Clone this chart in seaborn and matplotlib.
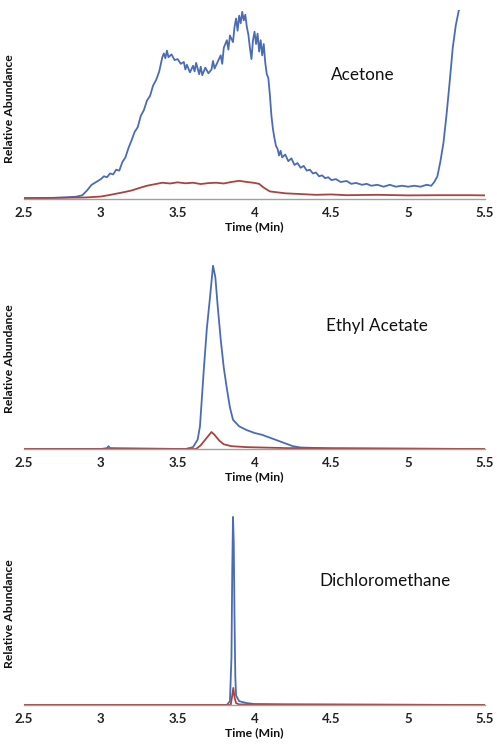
import pandas as pd
import matplotlib
matplotlib.use("Agg")
import matplotlib.pyplot as plt
import seaborn as sns

# Acetone trace (blue = total, red = second ion), relative abundance
acetone_blue_t = [2.50, 2.60, 2.70, 2.78, 2.84, 2.88, 2.91, 2.94, 2.97, 3.00, 3.02, 3.04, 3.06, 3.08,
                  3.10, 3.12, 3.14, 3.16, 3.18, 3.20, 3.22, 3.24, 3.26, 3.28, 3.30, 3.32, 3.34, 3.36,
                  3.38, 3.40, 3.41, 3.42, 3.43, 3.44, 3.46, 3.48, 3.50, 3.52, 3.54, 3.55, 3.56, 3.58,
                  3.60, 3.61, 3.62, 3.64, 3.65, 3.66, 3.68, 3.70, 3.72, 3.73, 3.74, 3.76, 3.78, 3.79,
                  3.80, 3.82, 3.83, 3.84, 3.86, 3.87, 3.88, 3.89, 3.90, 3.91, 3.92, 3.93, 3.94, 3.95,
                  3.96, 3.97, 3.98, 3.99, 4.00, 4.01, 4.02, 4.03, 4.04, 4.05, 4.06, 4.07, 4.08, 4.09,
                  4.10, 4.11, 4.12, 4.13, 4.14, 4.15, 4.16, 4.17, 4.18, 4.20, 4.22, 4.24, 4.26, 4.28,
                  4.30, 4.32, 4.34, 4.36, 4.38, 4.40, 4.42, 4.44, 4.46, 4.48, 4.50, 4.53, 4.56, 4.60,
                  4.63, 4.66, 4.70, 4.73, 4.76, 4.80, 4.84, 4.88, 4.92, 4.96, 5.00, 5.04, 5.08, 5.12,
                  5.15, 5.17, 5.19, 5.21, 5.23, 5.25, 5.27, 5.29, 5.31, 5.32, 5.33]
acetone_blue_y = [0.3, 0.4, 0.6, 0.9, 1.2, 2.0, 4.5, 7.5, 9.0, 10.5, 12.0, 11.5, 13.5, 13.0,
                  15.5, 15.0, 19.5, 22.0, 27.0, 31.0, 35.5, 38.0, 44.0, 47.0, 52.0, 54.5, 60.0, 63.0,
                  67.5, 75.0, 77.0, 74.5, 78.5, 75.0, 76.5, 73.5, 74.0, 71.5, 72.5, 68.5, 71.0, 67.0,
                  70.5, 67.5, 72.0, 66.0, 70.0, 65.5, 69.5, 66.5, 68.5, 73.0, 69.0, 72.5, 76.0, 71.5,
                  80.0, 84.0, 79.0, 86.5, 83.0, 91.0, 95.5, 89.0, 97.0, 93.0, 99.0, 94.5, 97.5, 91.0,
                  87.0, 80.0, 74.0, 84.0, 88.5, 82.0, 87.5, 78.0, 84.0, 76.0, 82.0, 72.0, 66.0, 64.0,
                  55.0, 44.0, 37.0, 32.0, 28.0, 26.5, 23.0, 25.5, 22.0, 23.5, 20.0, 21.5, 18.0, 19.0,
                  16.5, 17.5, 15.0, 15.5, 13.5, 14.0, 12.0, 12.5, 11.0, 11.5, 10.0, 10.5, 9.0, 9.5,
                  8.0, 8.5, 7.5, 8.0, 7.0, 7.5, 6.5, 7.5, 6.5, 7.0, 6.5, 7.0, 6.5, 7.5,
                  7.0, 9.0, 12.0, 20.0, 30.0, 45.0, 62.0, 80.0, 92.0, 96.0, 100.0]
acetone_red_t = [2.50, 2.70, 2.90, 3.00, 3.05, 3.10, 3.15, 3.20, 3.25, 3.30, 3.35, 3.40, 3.45, 3.50,
                 3.55, 3.60, 3.65, 3.70, 3.75, 3.80, 3.85, 3.90, 3.95, 4.00, 4.03, 4.06, 4.10, 4.15,
                 4.20, 4.30, 4.40, 4.50, 4.60, 4.80, 5.00, 5.20, 5.40, 5.50]
acetone_red_y = [0.5, 0.6, 0.8, 1.3, 2.0, 2.8, 3.6, 4.5, 5.8, 7.0, 7.8, 8.6, 8.2, 8.8,
                 8.3, 8.6, 7.9, 8.4, 8.6, 8.2, 9.0, 9.6, 9.0, 8.5, 8.0, 6.0, 4.0, 3.5,
                 3.0, 2.6, 2.2, 2.4, 2.0, 2.2, 1.9, 2.0, 2.0, 1.9]

# Ethyl acetate trace
ethyl_blue_t = [2.50, 3.00, 3.04, 3.05, 3.06, 3.55, 3.60, 3.63, 3.645, 3.67, 3.69, 3.71, 3.73, 3.745,
                3.76, 3.78, 3.80, 3.82, 3.84, 3.86, 3.90, 3.95, 4.00, 4.05, 4.10, 4.15, 4.20, 4.25,
                4.30, 4.50, 5.50]
ethyl_blue_y = [0.0, 0.0, 0.5, 1.5, 0.5, 0.0, 1.0, 5.0, 12.0, 42.0, 64.0, 80.0, 97.0, 91.0,
                76.0, 58.0, 43.0, 32.0, 22.0, 15.5, 12.0, 10.0, 8.5, 7.5, 6.0, 4.5, 3.0, 1.5,
                0.8, 0.3, 0.0]
ethyl_red_t = [2.50, 3.62, 3.65, 3.68, 3.70, 3.72, 3.74, 3.77, 3.80, 3.85, 3.95, 4.20, 5.50]
ethyl_red_y = [0.0, 0.0, 2.0, 5.0, 7.0, 9.0, 7.5, 4.5, 2.5, 1.5, 1.0, 0.5, 0.0]

# Dichloromethane trace
dcm_blue_t = [2.50, 3.82, 3.84, 3.85, 3.855, 3.86, 3.865, 3.87, 3.875, 3.88, 3.90, 3.95, 4.00, 4.20, 5.50]
dcm_blue_y = [0.0, 0.0, 2.0, 25.0, 70.0, 99.0, 85.0, 45.0, 15.0, 5.0, 2.0, 1.0, 0.5, 0.3, 0.0]
dcm_red_t = [2.50, 3.845, 3.855, 3.862, 3.87, 3.88, 3.90, 5.50]
dcm_red_y = [0.0, 0.0, 5.0, 9.0, 4.0, 1.0, 0.3, 0.0]

compounds = ["Acetone", "Ethyl Acetate", "Dichloromethane"]
ticks = [2.5, 3, 3.5, 4, 4.5, 5, 5.5]
tick_labels = ["2.5", "3", "3.5", "4", "4.5", "5", "5.5"]

traces = [
    (acetone_blue_t, acetone_blue_y, acetone_red_t, acetone_red_y),
    (ethyl_blue_t, ethyl_blue_y, ethyl_red_t, ethyl_red_y),
    (dcm_blue_t, dcm_blue_y, dcm_red_t, dcm_red_y),
]

sns.set_style("white")
plt.rcParams['font.family'] = ['Lato', 'DejaVu Sans']

palette = {"blue": "#4a6cb6", "red": "#a8443f"}
fig = plt.figure(figsize=(4.97, 7.5), dpi=100)

# axes boxes in figure fractions (left, bottom, width, height)
boxes = [(0.0483, 0.7347, 0.9276, 0.252),
         (0.0483, 0.4013, 0.9276, 0.252),
         (0.0483, 0.0600, 0.9276, 0.2533)]
label_pos = [(0.735, 0.656), (0.766, 0.651), (0.783, 0.653)]

for box, name, (bt, by, rt, ry), lp in zip(boxes, compounds, traces, label_pos):
    ax = fig.add_axes(box)
    df = pd.concat([
        pd.DataFrame({"time": bt, "abundance": by, "ion": "blue"}),
        pd.DataFrame({"time": rt, "abundance": ry, "ion": "red"}),
    ], ignore_index=True)
    sns.lineplot(data=df, x="time", y="abundance", hue="ion", palette=palette,
                 estimator=None, linewidth=1.3, legend=False, ax=ax)
    ax.set_xlim(2.5, 5.5)
    ax.set_ylim(0, 100)
    ax.set_xticks(ticks)
    ax.set_xticklabels(tick_labels, fontsize=9.5, fontweight="bold", color="#222222")
    ax.set_yticks([])
    ax.tick_params(axis="x", direction="out", length=3, width=0.8, color="#999999", pad=3)
    for side in ["left", "right", "top"]:
        ax.spines[side].set_visible(False)
    ax.spines["bottom"].set_color("#a0a0a0")
    ax.spines["bottom"].set_linewidth(1.0)
    ax.set_xlabel("Time (Min)", fontsize=8.8, fontweight="bold", labelpad=1, color="#111111")
    ax.set_ylabel("Relative Abundance", fontsize=8.8, fontweight="bold", color="#111111")
    ax.yaxis.set_label_coords(-0.02, 0.48)
    ax.text(lp[0], lp[1], name, transform=ax.transAxes, ha="center", va="center",
            fontsize=12.3, color="#111111")

fig.savefig("out.png", dpi=100)
plt.close(fig)
